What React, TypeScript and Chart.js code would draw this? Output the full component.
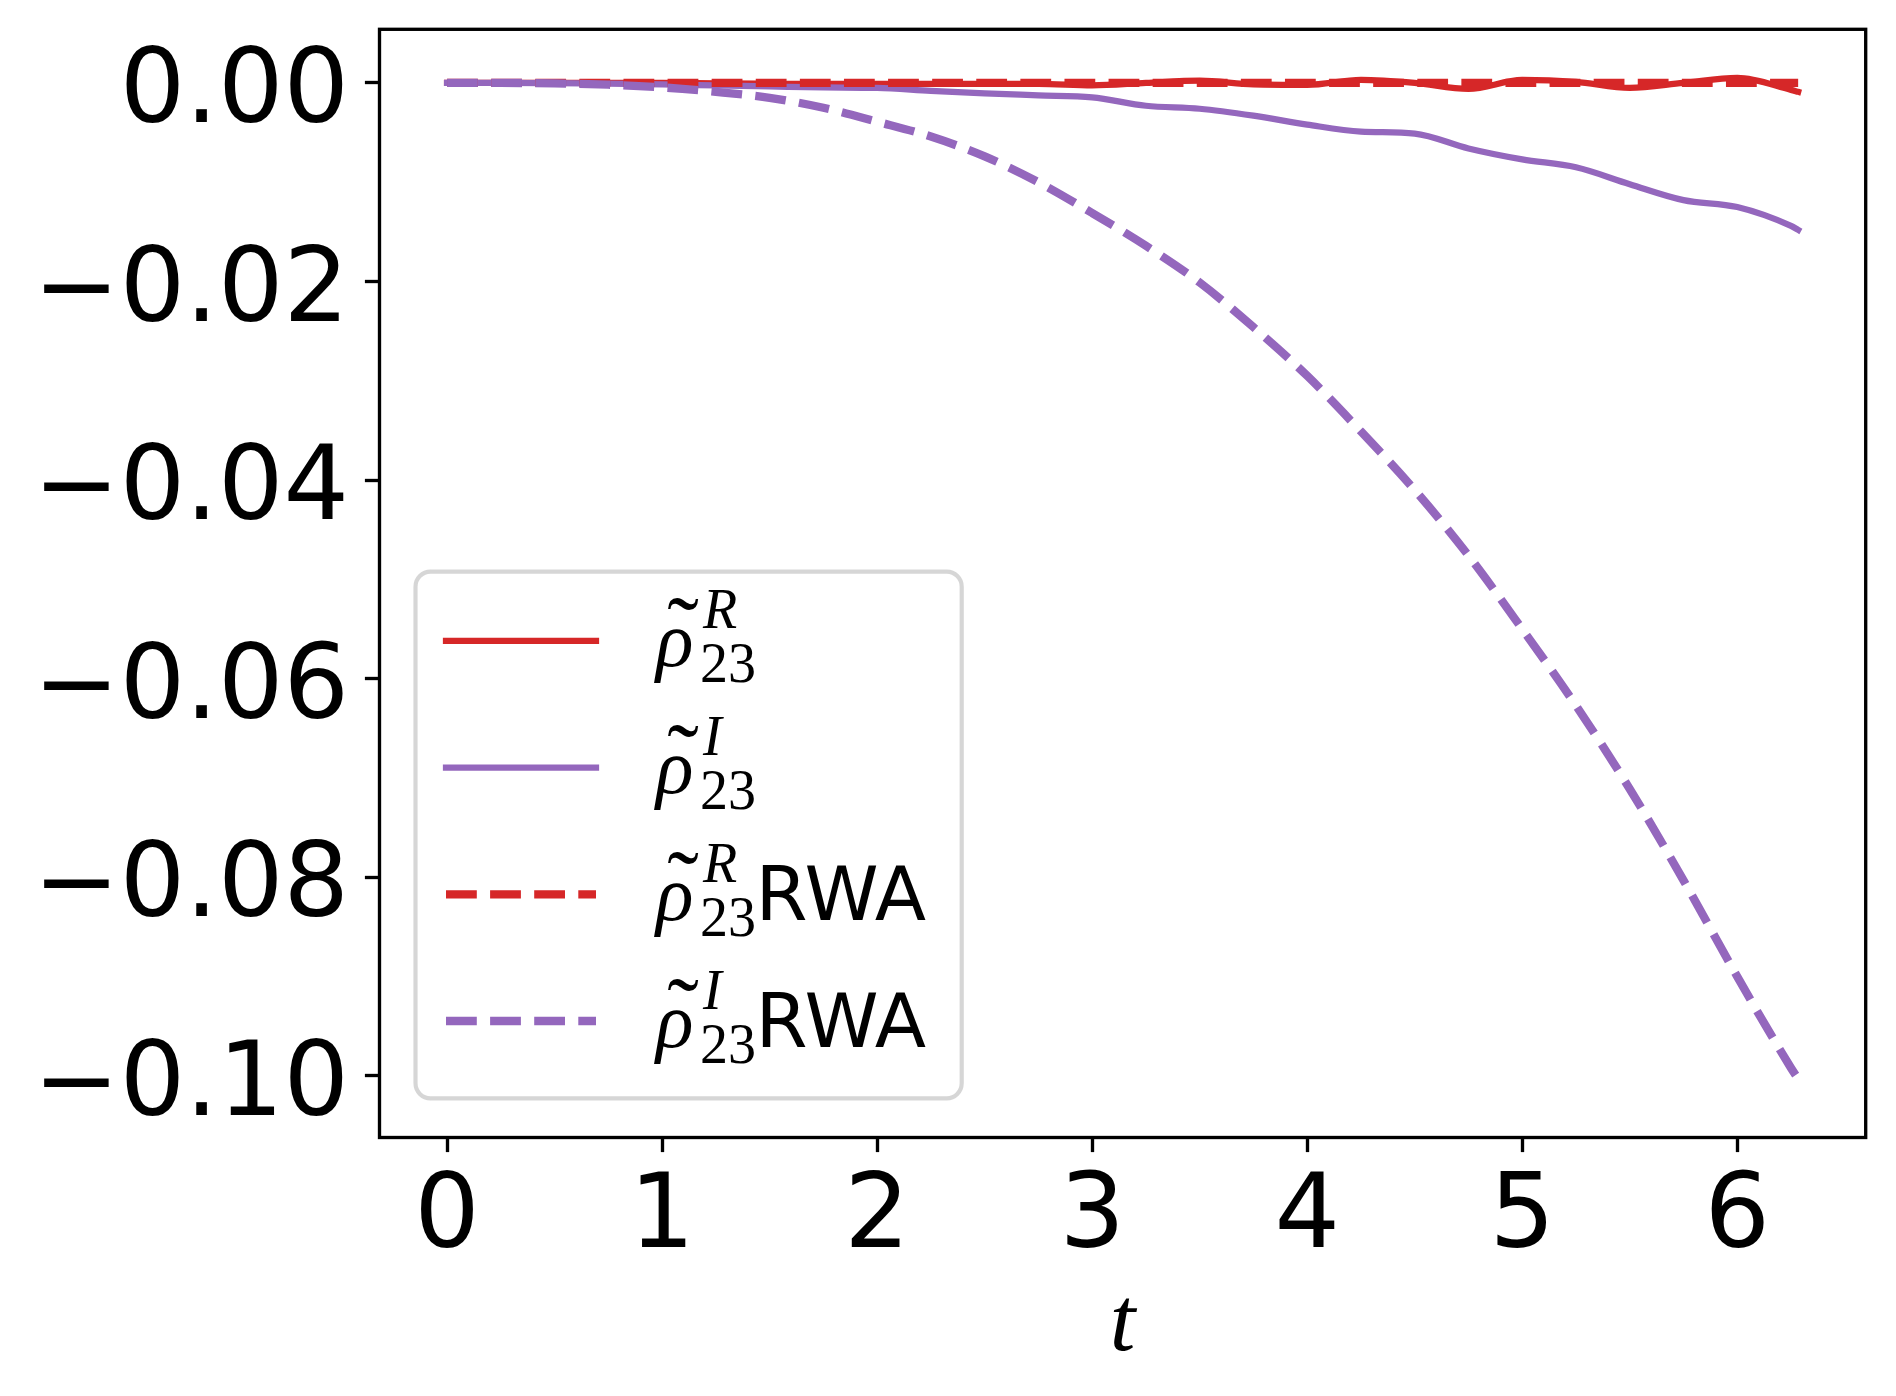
import React, { useEffect, useRef } from 'react';
import { Chart, registerables } from 'chart.js';

Chart.register(...registerables);

// time grid (0 .. 2π)
const tValues = [
  0, 0.25, 0.5, 0.75, 1, 1.25, 1.5, 1.75, 2, 2.25, 2.5, 2.75, 3, 3.25,
  3.5, 3.75, 4, 4.25, 4.5, 4.75, 5, 5.25, 5.5, 5.75, 6, 6.25, 6.2832,
];

// real part, full model
const rhoR = [
  0, 0, 0, 0, 0, -0.00005, -0.00008, -0.0001, -0.0001, -0.0001, -0.0001, -0.0001, -0.00025, 0,
  0.00022, -0.00015, -0.0002, 0.0003, 0, -0.0006, 0.0003, 0.0001, -0.0005, 0, 0.0005, -0.0007, -0.0009,
];

// imaginary part, full model
const rhoI = [
  0, 0, -0.00003, -0.00008, -0.00015, -0.00025, -0.00035, -0.00045, -0.0005, -0.0008, -0.00105, -0.00125, -0.00145, -0.0023,
  -0.0026, -0.0033, -0.0042, -0.0049, -0.0051, -0.0066, -0.0077, -0.0085, -0.0102, -0.0118, -0.0125, -0.0144, -0.0148,
];

// real part, RWA
const rhoRrwa = [
  0, 0, 0, 0, 0, 0, 0, 0, 0, 0, 0, 0, 0, 0,
  0, 0, 0, 0, 0, 0, 0, 0, 0, 0, 0, 0, 0,
];

// imaginary part, RWA
const rhoIrwa = [
  0, 0, -0.00005, -0.00018, -0.00045, -0.0009, -0.0015, -0.0025, -0.0039, -0.0054, -0.0074, -0.01, -0.0131, -0.0164,
  -0.0201, -0.0246, -0.0295, -0.0351, -0.041, -0.0476, -0.055, -0.0627, -0.0711, -0.0803, -0.09, -0.0992, -0.1003,
];

const xTicks = [0, 1, 2, 3, 4, 5, 6];
const xTickLabels = ['0', '1', '2', '3', '4', '5', '6'];
const yTicks = [0, -0.02, -0.04, -0.06, -0.08, -0.1];
const yTickLabels = ['0.00', '−0.02', '−0.04', '−0.06', '−0.08', '−0.10'];

const seriesLabels = ['ρ̃₂₃ᴿ', 'ρ̃₂₃ᴵ', 'ρ̃₂₃ᴿ RWA', 'ρ̃₂₃ᴵ RWA'];
const seriesSup = ['R', 'I', 'R', 'I'];
const seriesSuffix = ['', '', 'RWA', 'RWA'];
const xTitle = 't';

const RED = '#d62728';
const PURPLE = '#9467bd';

const makeSet = (i: number, data: number[], color: string, dashed: boolean, order: number) => ({
  label: seriesLabels[i],
  data: tValues.map((t, k) => ({ x: t, y: data[k] })),
  borderColor: color,
  borderWidth: dashed ? 8.33 : 6.25,
  borderDash: dashed ? [30.8, 13.3] : [],
  borderCapStyle: dashed ? 'butt' : 'square',
  borderJoinStyle: 'round',
  pointRadius: 0,
  fill: false,
  cubicInterpolationMode: 'monotone',
  order,
});

// axes box, tick labels, x label and the matplotlib-like legend
const framePlugin = {
  id: 'framePlugin',
  afterDraw(chart: any) {
    const { ctx, chartArea: a } = chart;
    const xs = chart.scales.x;
    const ys = chart.scales.y;
    ctx.save();
    ctx.strokeStyle = '#000';
    ctx.lineWidth = 3.33;
    ctx.strokeRect(a.left, a.top, a.right - a.left, a.bottom - a.top);

    // tick labels
    ctx.fillStyle = '#000';
    ctx.font = '103px "DejaVu Sans"';
    ctx.textBaseline = 'alphabetic';
    ctx.textAlign = 'right';
    yTicks.forEach((v, i) => {
      ctx.fillText(yTickLabels[i], a.left - 30.5, ys.getPixelForValue(v) + 39);
    });
    ctx.textAlign = 'center';
    xTicks.forEach((v, i) => {
      ctx.fillText(xTickLabels[i], xs.getPixelForValue(v), a.bottom + 109.5);
    });

    ctx.font = 'italic 92px "Liberation Serif"';
    ctx.fillText(xTitle, (a.left + a.right) / 2, 1350);

    // legend frame
    const bx = 415.5, by = 571.7, bw = 961.7 - 415.5, bh = 1098.3 - 571.7;
    ctx.beginPath();
    ctx.roundRect(bx, by, bw, bh, 15);
    ctx.fillStyle = 'rgba(255,255,255,0.8)';
    ctx.fill();
    ctx.strokeStyle = 'rgba(204,204,204,0.8)';
    ctx.lineWidth = 4.17;
    ctx.stroke();

    chart.data.datasets.forEach((ds: any, i: number) => {
      const y = 640.9 + i * 126.7;
      ctx.beginPath();
      ctx.setLineDash(ds.borderDash);
      ctx.lineDashOffset = 0;
      ctx.strokeStyle = ds.borderColor;
      ctx.lineWidth = ds.borderWidth;
      ctx.lineCap = ds.borderCapStyle;
      ctx.moveTo(446, y);
      ctx.lineTo(596, y);
      ctx.stroke();
      ctx.setLineDash([]);

      const base = y + 25.5;
      ctx.fillStyle = '#000';
      ctx.textAlign = 'left';
      ctx.font = 'italic 78px "Liberation Serif"';
      ctx.fillText('ρ', 656, base);
      ctx.textAlign = 'center';
      ctx.font = '95px "Liberation Serif"';
      ctx.fillText('˜', 683, base - 4);
      ctx.textAlign = 'left';
      ctx.font = 'italic 56px "Liberation Serif"';
      ctx.fillText(seriesSup[i], 703, base - 38);
      ctx.font = '56px "Liberation Serif"';
      ctx.fillText('23', 700, base + 16);
      if (seriesSuffix[i]) {
        ctx.font = '75px "DejaVu Sans"';
        ctx.fillText(seriesSuffix[i], 755.5, base);
      }
    });
    ctx.restore();
  },
};

const tickGrid = {
  drawOnChartArea: false,
  drawTicks: true,
  tickLength: 14.6,
  tickWidth: 3.33,
  tickColor: '#000',
};

const App: React.FC = () => {
  const canvasRef = useRef<HTMLCanvasElement>(null);
  const chartRef = useRef<Chart | null>(null);

  useEffect(() => {
    if (!canvasRef.current) return;
    if (chartRef.current) chartRef.current.destroy();

    chartRef.current = new Chart(canvasRef.current, {
      type: 'line',
      data: {
        datasets: [
          makeSet(0, rhoR, RED, false, 4),
          makeSet(1, rhoI, PURPLE, false, 3),
          makeSet(2, rhoRrwa, RED, true, 2),
          makeSet(3, rhoIrwa, PURPLE, true, 1),
        ] as any,
      },
      options: {
        responsive: false,
        devicePixelRatio: 1,
        animation: false,
        layout: { padding: { left: 0, top: 29.3, right: 30.3, bottom: 0 } },
        plugins: {
          legend: { display: false },
          tooltip: { enabled: false },
        },
        scales: {
          x: {
            type: 'linear',
            min: -0.3142,
            max: 6.5973,
            afterBuildTicks: (s: any) => {
              s.ticks = xTicks.map((v) => ({ value: v }));
            },
            afterFit: (s: any) => {
              s.height = 258.5;
              s.paddingLeft = 0;
              s.paddingRight = 0;
            },
            grid: tickGrid,
            border: { display: false },
            ticks: { display: false, autoSkip: false },
          },
          y: {
            type: 'linear',
            min: -0.1062,
            max: 0.0054,
            afterBuildTicks: (s: any) => {
              s.ticks = yTicks.map((v) => ({ value: v }));
            },
            afterFit: (s: any) => {
              s.width = 379.5;
              s.paddingTop = 0;
              s.paddingBottom = 0;
            },
            grid: tickGrid,
            border: { display: false },
            ticks: { display: false, autoSkip: false },
          },
        },
      } as any,
      plugins: [framePlugin],
    });

    return () => {
      if (chartRef.current) {
        chartRef.current.destroy();
        chartRef.current = null;
      }
    };
  }, []);

  return (
    <div style={{ position: 'absolute', left: 0, top: 0, width: 1896, height: 1396, background: '#fff' }}>
      <canvas ref={canvasRef} width={1896} height={1396} style={{ display: 'block', width: 1896, height: 1396 }} />
    </div>
  );
};

export default App;
